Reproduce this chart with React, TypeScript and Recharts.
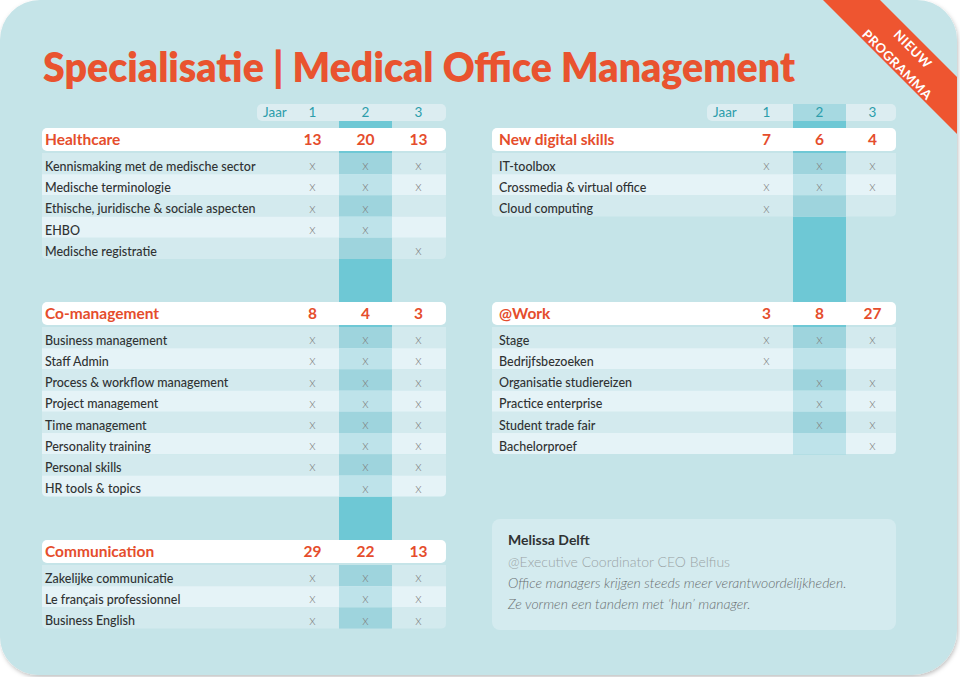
import React from 'react';
import { ScatterChart, Scatter, XAxis, YAxis, ReferenceArea } from 'recharts';

// ---------- DATA ----------
const years = [1, 2, 3];

const healthcareCourses = [
  'Kennismaking met de medische sector',
  'Medische terminologie',
  'Ethische, juridische & sociale aspecten',
  'EHBO',
  'Medische registratie',
];
const healthcareYears = [[1, 2, 3], [1, 2, 3], [1, 2], [1, 2], [3]];
const healthcareTotals = [13, 20, 13];

const digitalCourses = ['IT-toolbox', 'Crossmedia & virtual office', 'Cloud computing'];
const digitalYears = [[1, 2, 3], [1, 2, 3], [1]];
const digitalTotals = [7, 6, 4];

const comanagementCourses = [
  'Business management',
  'Staff Admin',
  'Process & workflow management',
  'Project management',
  'Time management',
  'Personality training',
  'Personal skills',
  'HR tools & topics',
];
const comanagementYears = [[1, 2, 3], [1, 2, 3], [1, 2, 3], [1, 2, 3], [1, 2, 3], [1, 2, 3], [1, 2, 3], [2, 3]];
const comanagementTotals = [8, 4, 3];

const workCourses = [
  'Stage',
  'Bedrijfsbezoeken',
  'Organisatie studiereizen',
  'Practice enterprise',
  'Student trade fair',
  'Bachelorproef',
];
const workYears = [[1, 2, 3], [1], [2, 3], [2, 3], [2, 3], [3]];
const workTotals = [3, 8, 27];

const communicationCourses = ['Zakelijke communicatie', 'Le français professionnel', 'Business English'];
const communicationYears = [[1, 2, 3], [1, 2, 3], [1, 2, 3]];
const communicationTotals = [29, 22, 13];

const titleText = 'Specialisatie | Medical Office Management';
const yearLabel = 'Jaar';
const quoteName = 'Melissa Delft';
const quoteRole = '@Executive Coordinator CEO Belfius';
const quoteLines = [
  'Office managers krijgen steeds meer verantwoordelijkheden.',
  'Ze vormen een tandem met \u2018hun\u2019 manager.',
];

// ---------- LAYOUT / STYLE ----------
const FONT = 'Lato, "Open Sans", sans-serif';
const ROW_H = 21.2;
const HEADER_H = 23;
const JAAR_TOP = 104;
const JAAR_BOTTOM = 121;

const C = {
  bg: '#c5e4e8',
  rowOdd: '#d3eaee',
  rowEven: '#e5f3f7',
  col2Odd: '#9ed4dd',
  col2Even: '#bee3ea',
  strip: '#6ec8d5',
  jaar: '#dcedf1',
  jaarCol2: '#a6d9e1',
  teal: '#2c9dab',
  orange: '#e54d2c',
  title: '#e9532f',
  text: '#2f3233',
  mark: '#808080',
  quote: '#d4ebef',
  ribbon: '#ee5530',
};

const leftCol = { left: 42, width: 404, labelW: 244, colW: 53, textPad: 3, jaarLeft: 257, jaarCol2: false };
const rightCol = { left: 492, width: 404, labelW: 248, colW: 53, textPad: 7, jaarLeft: 707, jaarCol2: true };

const panels = [
  { key: 'hc', col: leftCol, title: 'Healthcare', courses: healthcareCourses, yearsList: healthcareYears, totals: healthcareTotals, headerTop: 128, withYears: true },
  { key: 'dg', col: rightCol, title: 'New digital skills', courses: digitalCourses, yearsList: digitalYears, totals: digitalTotals, headerTop: 128, withYears: true },
  { key: 'cm', col: leftCol, title: 'Co-management', courses: comanagementCourses, yearsList: comanagementYears, totals: comanagementTotals, headerTop: 302, withYears: false },
  { key: 'wk', col: rightCol, title: '@Work', courses: workCourses, yearsList: workYears, totals: workTotals, headerTop: 302, withYears: false },
  { key: 'co', col: leftCol, title: 'Communication', courses: communicationCourses, yearsList: communicationYears, totals: communicationTotals, headerTop: 540, withYears: false },
];
const ROWS_GAP = 25; // header top -> first row top

function bottomRounded(x: number, y: number, w: number, h: number, r: number) {
  return `M${x},${y} H${x + w} V${y + h - r} Q${x + w},${y + h} ${x + w - r},${y + h} H${x + r} Q${x},${y + h} ${x},${y + h - r} Z`;
}

function Panel({ p }: { p: any }) {
  const c = p.col;
  const n = p.courses.length;
  const rowsTop = p.headerTop + ROWS_GAP;
  const chartTop = p.withYears ? JAAR_TOP : p.headerTop;
  const plotTop = p.withYears ? JAAR_BOTTOM : p.headerTop;
  const bottom = rowsTop + n * ROW_H;
  const height = bottom - chartTop;
  const toU = (px: number) => (px - rowsTop) / ROW_H - 0.5;
  const xMin = 0.5 - c.labelW / c.colW;
  const xMax = 0.5 + (c.width - c.labelW) / c.colW;
  const headerU = toU(p.headerTop + HEADER_H / 2);

  const marks = p.courses.flatMap((_: string, i: number) => p.yearsList[i].map((yr: number) => ({ x: yr, y: i })));
  const labels = p.courses.map((name: string, i: number) => ({ x: xMin, y: i, label: name }));
  const totals = years.map((yr, k) => ({ x: yr, y: headerU, v: p.totals[k] }));
  const titlePt = [{ x: xMin, y: headerU, label: p.title }];

  return (
    <ScatterChart width={c.width} height={height} margin={{ top: 0, right: 0, bottom: 0, left: 0 }}>
      <XAxis
        type="number"
        dataKey="x"
        domain={[xMin, xMax]}
        allowDataOverflow
        orientation="top"
        hide={!p.withYears}
        height={p.withYears ? plotTop - chartTop : 0}
        ticks={years}
        interval={0}
        axisLine={false}
        tickLine={false}
        tick={(t: any) => (
          <text x={t.x} y={13} textAnchor="middle" fill={C.teal} fontSize={13.5} fontFamily={FONT}>
            {t.payload.value}
          </text>
        )}
      />
      <YAxis type="number" dataKey="y" domain={[toU(plotTop), n - 0.5]} reversed hide allowDataOverflow />
      <ReferenceArea
        x1={xMin}
        x2={xMax}
        y1={toU(p.headerTop)}
        y2={toU(p.headerTop + HEADER_H)}
        ifOverflow="visible"
        shape={(s: any) => <rect x={s.x} y={s.y} width={s.width} height={s.height} rx={5} fill="#ffffff" />}
      />
      {p.courses.map((_: string, i: number) => (
        <ReferenceArea
          key={'row' + i}
          x1={xMin}
          x2={xMax}
          y1={i - 0.5}
          y2={i + 0.5}
          ifOverflow="visible"
          shape={(s: any) =>
            i === n - 1 ? (
              <path d={bottomRounded(s.x, s.y, s.width, s.height, 5)} fill={i % 2 === 0 ? C.rowOdd : C.rowEven} />
            ) : (
              <rect x={s.x} y={s.y} width={s.width} height={s.height} fill={i % 2 === 0 ? C.rowOdd : C.rowEven} />
            )
          }
        />
      ))}
      {p.courses.map((_: string, i: number) => (
        <ReferenceArea
          key={'c2' + i}
          x1={1.5}
          x2={2.5}
          y1={i - 0.5}
          y2={i + 0.5}
          ifOverflow="visible"
          shape={(s: any) => (
            <rect x={s.x} y={s.y} width={s.width} height={s.height} fill={i % 2 === 0 ? C.col2Odd : C.col2Even} />
          )}
        />
      ))}
      <Scatter
        data={labels}
        isAnimationActive={false}
        shape={(s: any) => (
          <text x={s.cx + c.textPad} y={s.cy + 7.3} fontSize={12.5} fontWeight={500} fill={C.text} fontFamily={FONT}>
            {s.payload.label}
          </text>
        )}
      />
      <Scatter
        data={marks}
        isAnimationActive={false}
        shape={(s: any) => (
          <text x={s.cx} y={s.cy + 6.6} textAnchor="middle" fontSize={13.5} fill={C.mark} fontWeight={300} fontFamily={FONT}>
            x
          </text>
        )}
      />
      <Scatter
        data={titlePt}
        isAnimationActive={false}
        shape={(s: any) => (
          <text x={s.cx + c.textPad} y={s.cy + 5.5} fontSize={15.5} fontWeight={700} fill={C.orange} fontFamily={FONT}>
            {s.payload.label}
          </text>
        )}
      />
      <Scatter
        data={totals}
        isAnimationActive={false}
        shape={(s: any) => (
          <text x={s.cx} y={s.cy + 5.5} textAnchor="middle" fontSize={15.5} fontWeight={700} fill={C.orange} fontFamily={FONT}>
            {s.payload.v}
          </text>
        )}
      />
    </ScatterChart>
  );
}

const cardPath =
  'M40,0 H917 A40,40 0 0 1 957,40 V630 A45,45 0 0 1 912,675 H38 A38,38 0 0 1 0,637 V40 A40,40 0 0 1 40,0 Z';

export default function App() {
  const strips = [
    { col: leftCol, y1: JAAR_BOTTOM, y2: 540 },
    { col: rightCol, y1: JAAR_BOTTOM, y2: 302 + ROWS_GAP + workCourses.length * ROW_H },
  ];
  return (
    <div style={{ position: 'absolute', left: 0, top: 0, width: 960, height: 677, overflow: 'hidden', background: '#ffffff' }}>
      <svg width={960} height={677} style={{ position: 'absolute', left: 0, top: 0 }}>
        <defs>
          <clipPath id="cardClip">
            <path d={cardPath} />
          </clipPath>
          <filter id="shadow" x="-5%" y="-5%" width="110%" height="110%">
            <feDropShadow dx="1" dy="2" stdDeviation="2" floodColor="#000" floodOpacity="0.25" />
          </filter>
        </defs>
        <path d={cardPath} fill={C.bg} filter="url(#shadow)" />
        {strips.map((s, i) => (
          <rect
            key={i}
            x={s.col.left + s.col.labelW + s.col.colW}
            y={s.y1}
            width={s.col.colW}
            height={s.y2 - s.y1}
            fill={C.strip}
          />
        ))}
        {[leftCol, rightCol].map((col, i) => (
          <g key={'jaar' + i}>
            <rect x={col.jaarLeft} y={JAAR_TOP} width={col.left + col.width - col.jaarLeft} height={JAAR_BOTTOM - JAAR_TOP} rx={5} fill={C.jaar} />
            {col.jaarCol2 ? (
              <rect x={col.left + col.labelW + col.colW} y={JAAR_TOP} width={col.colW} height={JAAR_BOTTOM - JAAR_TOP} fill={C.jaarCol2} />
            ) : null}
            <text x={col.jaarLeft + 6} y={117} fontSize={13.5} fill={C.teal} fontFamily={FONT}>
              {yearLabel}
            </text>
          </g>
        ))}
        <g clipPath="url(#cardClip)">
          <polygon points="823,0 880,0 990,110 990,167" fill={C.ribbon} />
        </g>
        <g transform="translate(905,57) rotate(45)">
          <text x={0} y={-6.5} textAnchor="middle" fontSize={13} fontWeight={700} fill="#ffffff" fontFamily={FONT} letterSpacing={0.6}>
            NIEUW
          </text>
          <text x={0} y={15.5} textAnchor="middle" fontSize={13} fontWeight={700} fill="#ffffff" fontFamily={FONT} letterSpacing={0.6}>
            PROGRAMMA
          </text>
        </g>
        <text
          x={43}
          y={82}
          fontSize={41}
          fontWeight={800}
          fill={C.title}
          fontFamily={FONT}
          textLength={752}
          lengthAdjust="spacingAndGlyphs"
        >
          {titleText}
        </text>
        <rect x={492} y={519} width={404} height={111} rx={8} fill={C.quote} />
        <text x={508} y={545} fontSize={14} fontWeight={700} fill={C.text} fontFamily={FONT}>
          {quoteName}
        </text>
        <text x={508} y={567} fontSize={14} fontWeight={300} fill="#9aa4a6" fontFamily={FONT}>
          {quoteRole}
        </text>
        {quoteLines.map((l, i) => (
          <text key={i} x={508} y={588 + i * 21} fontSize={14} fontWeight={300} fontStyle="italic" fill="#6a7072" fontFamily={FONT}>
            {l}
          </text>
        ))}
      </svg>
      {panels.map((p) => (
        <div key={p.key} style={{ position: 'absolute', left: p.col.left, top: p.withYears ? JAAR_TOP : p.headerTop }}>
          <Panel p={p} />
        </div>
      ))}
    </div>
  );
}
